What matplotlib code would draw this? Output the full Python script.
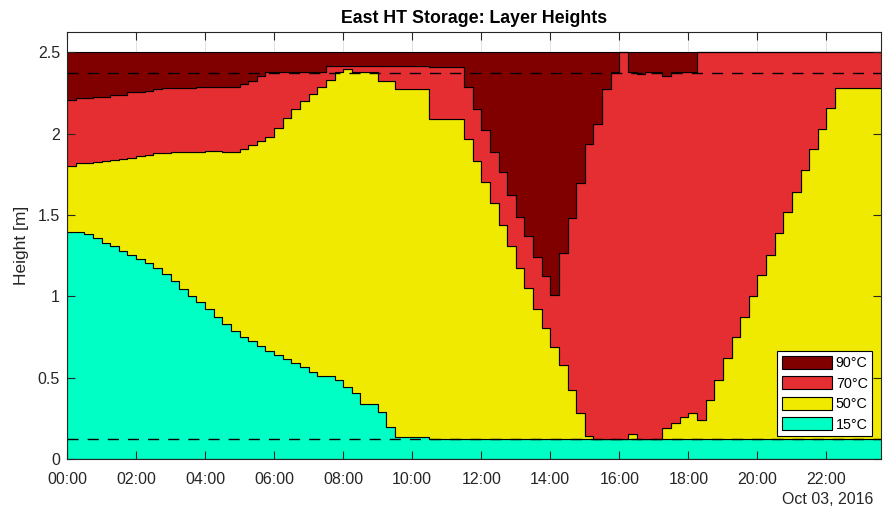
import numpy as np
import matplotlib
matplotlib.use("Agg")
import matplotlib.pyplot as plt

plt.rcParams['font.family'] = ['Liberation Sans', 'DejaVu Sans']

# ---- data: layer boundaries sampled every 15 minutes (hours from 00:00) ----
step_h = 0.25
t_end = 23.75
x_max = 23.58

top_15C = [1.398, 1.398, 1.382, 1.357, 1.330, 1.310, 1.281, 1.255, 1.228, 1.204,
           1.173, 1.138, 1.094, 1.048, 1.005, 0.963, 0.920, 0.875, 0.830, 0.789,
           0.752, 0.728, 0.695, 0.666, 0.640, 0.615, 0.588, 0.564, 0.537, 0.510,
           0.510, 0.486, 0.441, 0.404, 0.338, 0.338, 0.286, 0.194, 0.135, 0.135,
           0.135, 0.135] + [0.122] * 53

top_50C = [1.804, 1.818, 1.820, 1.829, 1.832, 1.839, 1.843, 1.853, 1.865, 1.870,
           1.880, 1.882, 1.886, 1.887, 1.888, 1.890, 1.892, 1.892, 1.890, 1.890,
           1.905, 1.931, 1.956, 1.982, 2.038, 2.095, 2.151, 2.204, 2.243, 2.285,
           2.331, 2.378, 2.398, 2.378, 2.378, 2.378, 2.325, 2.325, 2.274, 2.274,
           2.274, 2.274, 2.089, 2.089, 2.089, 2.089, 1.966, 1.835, 1.706, 1.572,
           1.440, 1.310, 1.176, 1.050, 0.924, 0.804, 0.691, 0.578, 0.424, 0.281,
           0.143, 0.122, 0.122, 0.122, 0.122, 0.154, 0.122, 0.122, 0.122, 0.189,
           0.219, 0.256, 0.285, 0.240, 0.362, 0.486, 0.619, 0.748, 0.875, 1.002,
           1.132, 1.255, 1.388, 1.517, 1.644, 1.777, 1.906, 2.029, 2.157, 2.284,
           2.284, 2.284, 2.284, 2.284, 2.284]

top_70C = [2.208, 2.222, 2.222, 2.228, 2.228, 2.239, 2.239, 2.255, 2.255, 2.263,
           2.276, 2.280, 2.280, 2.284, 2.284, 2.288, 2.288, 2.290, 2.290, 2.290,
           2.304, 2.325, 2.357, 2.382, 2.382, 2.382, 2.382, 2.382, 2.382, 2.382,
           2.417, 2.417, 2.417, 2.417, 2.417, 2.417, 2.417, 2.417, 2.417, 2.417,
           2.417, 2.417, 2.408, 2.408, 2.408, 2.408, 2.285, 2.155, 2.023, 1.890,
           1.767, 1.624, 1.490, 1.371, 1.244, 1.125, 1.009, 1.269, 1.480, 1.700,
           1.935, 2.058, 2.274, 2.378, 2.500, 2.378, 2.368, 2.378, 2.378, 2.358,
           2.378, 2.378, 2.378] + [2.5] * 22

tank_height = 2.5
limit_low = 0.125
limit_high = 2.375

layer_labels = ['90°C', '70°C', '50°C', '15°C']
layer_colors = ['#800000', '#E52E32', '#F0EA00', '#00FFC4']

xtick_hours = list(range(0, 24, 2))
xtick_labels = ['%02d:00' % h for h in xtick_hours]
ytick_vals = [0, 0.5, 1, 1.5, 2, 2.5]
ytick_labels = ['0', '0.5', '1', '1.5', '2', '2.5']

# ---- build stairs ----
n = len(top_15C)
t = np.append(np.arange(n) * step_h, t_end)
def ext(a):
    a = np.asarray(a, float)
    return np.append(a, a[-1])
b0 = np.zeros_like(t)
b1 = ext(top_15C)
b2 = ext(top_50C)
b3 = ext(top_70C)
b4 = np.full_like(t, tank_height)

W, H = 883, 514
fig = plt.figure(figsize=(W / 100, H / 100), dpi=100)
ax = fig.add_axes([67 / W, 1 - 459 / H, (881 - 67) / W, (459 - 32.3) / H])

tc = '#262626'
for xv in xtick_hours:
    ax.axvline(xv, color='#dedede', lw=0.6, zorder=0.3)
for yv in ytick_vals:
    ax.axhline(yv, color='#dedede', lw=0.6, zorder=0.3)

handles = {}
kw = dict(step='post', edgecolor='black', linewidth=0.8, zorder=1)
handles['15°C'] = ax.fill_between(t, b0, b1, facecolor=layer_colors[3], **kw)
handles['50°C'] = ax.fill_between(t, b1, b2, facecolor=layer_colors[2], **kw)
handles['70°C'] = ax.fill_between(t, b2, b3, facecolor=layer_colors[1], **kw)
handles['90°C'] = ax.fill_between(t, b3, b4, facecolor=layer_colors[0], **kw)

for yv in (limit_low, limit_high):
    ax.axhline(yv, color='black', lw=1.0, dashes=(8, 6.5), zorder=3)

ax.set_xlim(0, x_max)
ax.set_ylim(0, 2.624)
ax.set_xticks(xtick_hours)
ax.set_xticklabels(xtick_labels)
ax.set_yticks(ytick_vals)
ax.set_yticklabels(ytick_labels)
ax.tick_params(direction='in', length=5.8, width=0.8, top=True, right=True,
               labelsize=11.5, colors=tc)
ax.tick_params(axis='x', pad=9)
ax.tick_params(axis='y', pad=5)
for s in ax.spines.values():
    s.set_color(tc)
    s.set_linewidth(0.8)
    s.set_zorder(4)

ax.set_title('East HT Storage: Layer Heights', fontsize=12.8, fontweight='bold',
             color='black', pad=7)
ax.set_ylabel('Height [m]', fontsize=12.5, color=tc, labelpad=6)
fig.text(873 / W, 1 - 500 / H, 'Oct 03, 2016', ha='right', va='center',
         fontsize=11.5, color=tc)

leg = ax.legend([handles[l] for l in layer_labels], layer_labels,
                loc='lower right', bbox_to_anchor=(872 / W, 1 - 436 / H),
                bbox_transform=fig.transFigure, borderaxespad=0,
                fontsize=10.3, handlelength=3.5, handleheight=1.05,
                labelspacing=0.42, handletextpad=0.28, borderpad=0.3,
                fancybox=False, framealpha=1, edgecolor='black')
leg.get_frame().set_linewidth(0.8)
leg.set_zorder(5)

fig.savefig('out.png', dpi=100)
